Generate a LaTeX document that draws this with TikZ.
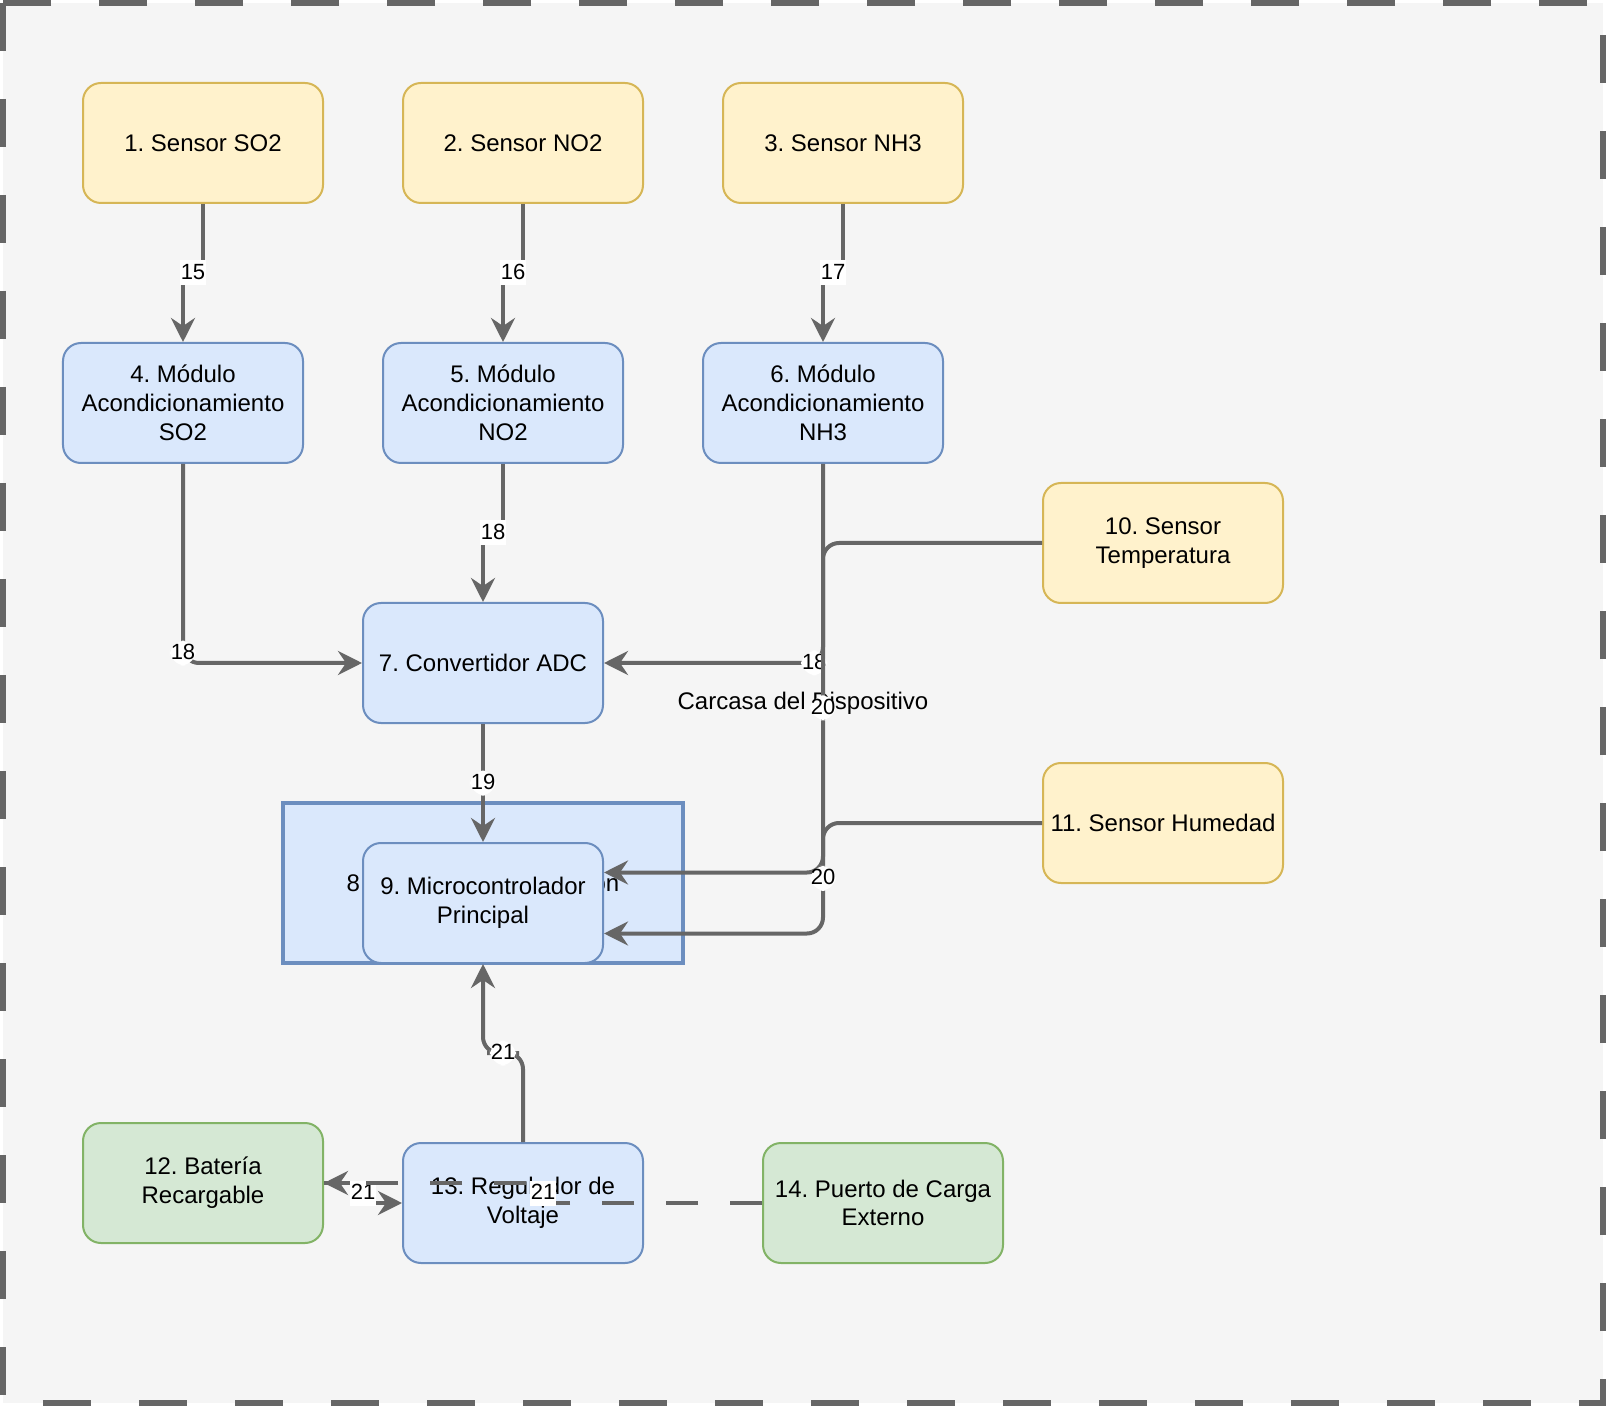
\documentclass[tikz,border=0pt]{standalone}
\usepackage{fontspec}
\setmainfont{Liberation Sans}
\usetikzlibrary{arrows.meta,calc}
\frenchspacing
\definecolor{grisborde}{HTML}{666666}
\definecolor{grisfondo}{HTML}{F5F5F5}
\definecolor{amarillo}{HTML}{FFF2CC}
\definecolor{amarilloborde}{HTML}{D6B656}
\definecolor{azul}{HTML}{DAE8FC}
\definecolor{azulborde}{HTML}{6C8EBF}
\definecolor{verde}{HTML}{D5E8D4}
\definecolor{verdeborde}{HTML}{82B366}
\tikzset{
  caja/.style={draw, line width=1pt, rounded corners=9pt, minimum width=120pt, minimum height=60pt, inner sep=0pt, align=center, font=\fontsize{12}{14.4}\selectfont},
  sensor/.style={caja, fill=amarillo, draw=amarilloborde},
  modulo/.style={caja, fill=azul, draw=azulborde},
  energia/.style={caja, fill=verde, draw=verdeborde},
  flecha/.style={draw=grisborde, line width=2pt, rounded corners=8pt, -{Stealth[length=12pt,width=12pt,inset=4pt]}},
  etiqueta/.style={fill=white, inner xsep=0.5pt, inner ysep=1.5pt, text height=8pt, text depth=1.5pt, font=\fontsize{11}{13}\selectfont},
}

\begin{document}
\begin{tikzpicture}[x=1pt,y=-1pt]
	\useasboundingbox (-1.5,-1.5) rectangle (801.5,701.5);

	% carcasa
	\draw[grisborde, fill=grisfondo, line width=3pt, dash pattern=on 24pt off 24pt] (0,0) -- (0,700) -- (800,700) -- (800,0) -- cycle;
	\node[font=\fontsize{12}{14.4}\selectfont] (carcasa) at (400,350) {Carcasa del Dispositivo};

	\node[sensor] (so2) at (100,70) {1. Sensor SO2};
	\node[sensor] (no2) at (260,70) {2. Sensor NO2};
	\node[sensor] (nh3) at (420,70) {3. Sensor NH3};

	\node[modulo] (aso2) at (90,200) {4. Módulo\\Acondicionamiento\\SO2};
	\node[modulo] (ano2) at (250,200) {5. Módulo\\Acondicionamiento\\NO2};
	\node[modulo] (anh3) at (410,200) {6. Módulo\\Acondicionamiento\\NH3};

	\node[modulo] (adc) at (240,330) {7. Convertidor ADC};
	\node[modulo, rounded corners=0pt, minimum width=200pt, minimum height=80pt, line width=1.8pt] (trans) at (240,440) {8. Unidad de Transmisión};
	\node[modulo] (mcu) at (240,450) {9. Microcontrolador\\Principal};

	\node[sensor] (temp) at (580,270) {10. Sensor\\Temperatura};
	\node[sensor] (hum) at (580,410) {11. Sensor Humedad};

	\node[energia] (bat) at (100,590) {12. Batería\\Recargable};
	\node[modulo] (reg) at (260,600) {13. Regulador de\\Voltaje};
	\node[energia] (usb) at (440,600) {14. Puerto de Carga\\Externo};

	\coordinate (mcua) at ($(mcu.north east)!.25!(mcu.south east)$);
	\coordinate (mcub) at ($(mcu.north east)!.75!(mcu.south east)$);

	\draw[flecha, sharp corners] (so2.south) |- ($(so2.south)!.5!(aso2.north)$) node[etiqueta] {15} -| (aso2.north);
	\draw[flecha, sharp corners] (no2.south) |- ($(no2.south)!.5!(ano2.north)$) node[etiqueta] {16} -| (ano2.north);
	\draw[flecha, sharp corners] (nh3.south) |- ($(nh3.south)!.5!(anh3.north)$) node[etiqueta] {17} -| (anh3.north);

	\draw[flecha, sharp corners] (ano2.south) |- ($(ano2.south)!.5!(adc.north)$) node[etiqueta] {18} -| (adc.north);
	\draw[flecha] (aso2.south) |- node[etiqueta, pos=.475] {18} (adc.west);
	\draw[flecha] (anh3.south) |- node[etiqueta, pos=.52] {18} (adc.east);

	\draw[flecha] (adc.south) -- node[etiqueta] {19} (mcu.north);

	\draw[flecha] (temp.west) -- (anh3.south |- temp.west) -- node[etiqueta] {20} (anh3.south |- mcua) -- (mcua);
	\draw[flecha] (hum.west) -- (anh3.south |- hum.west) -- node[etiqueta] {20} (anh3.south |- mcub) -- (mcub);

	\draw[flecha] (reg.north) |- ($(reg.north)!.5!(mcu.south)$) node[etiqueta] {21} -| (mcu.south);

	\draw[flecha, sharp corners] (bat.east) -| ($(bat.east)!.5!(reg.west)$) node[etiqueta] {21} |- (reg.west);
	\draw[flecha, sharp corners, dash pattern=on 16pt off 16pt] (usb.west) -| ($(bat.east)!.5!(usb.west)$) node[etiqueta] {21} |- (bat.east);

\end{tikzpicture}
\end{document}
